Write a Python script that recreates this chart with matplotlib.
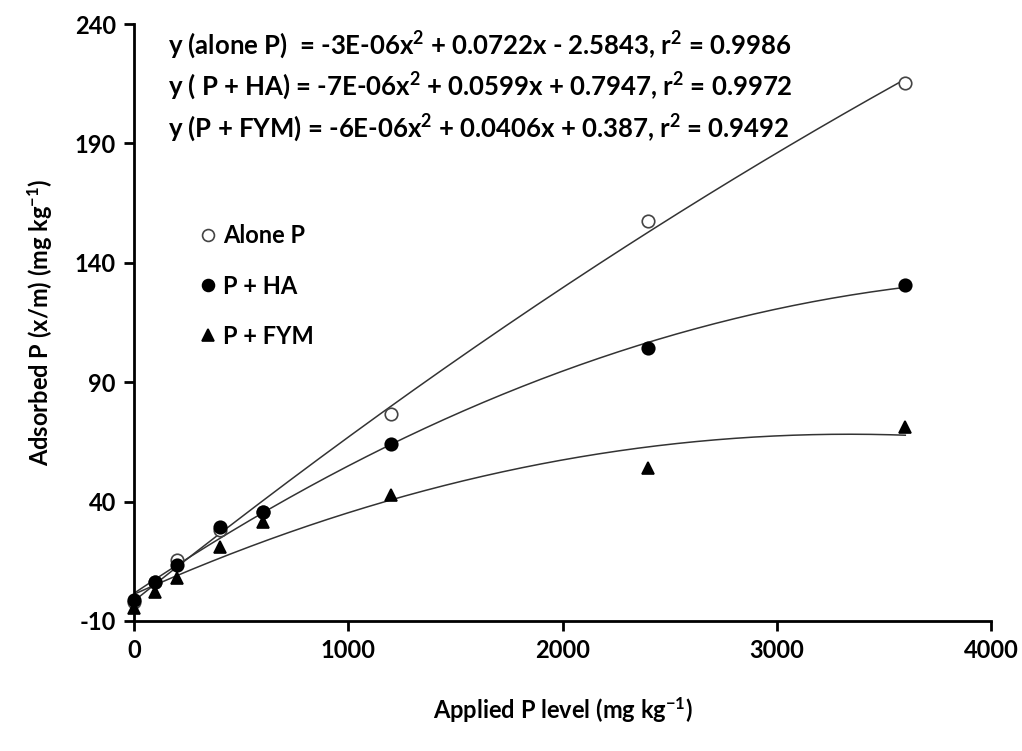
import numpy as np
import matplotlib
matplotlib.use("Agg")
import matplotlib.pyplot as plt

plt.rcParams['font.family'] = ['Lato', 'DejaVu Sans']
plt.rcParams['font.weight'] = 'bold'
plt.rcParams['axes.unicode_minus'] = False
plt.rcParams['mathtext.fontset'] = 'custom'
plt.rcParams['mathtext.rm'] = 'Lato'
plt.rcParams['mathtext.bf'] = 'Lato:bold'
plt.rcParams['mathtext.default'] = 'bf'

# applied P levels (mg/kg)
applied = [0, 100, 200, 400, 600, 1200, 2400, 3600]

# adsorbed P
alone_p = [-2, 6.3, 15.5, 28, 35.8, 76.7, 157.5, 215.3]
p_ha = [-1.2, 6.3, 13.5, 29.4, 35.6, 64.1, 104.3, 130.7]
p_fym = [-4.6, 2.2, 8.0, 21, 31.5, 42.8, 54.1, 71.2]

eq_lines = [
    "y (alone P)  = -3E-06x$^2$ + 0.0722x - 2.5843, r$^2$ = 0.9986",
    "y ( P + HA) = -7E-06x$^2$ + 0.0599x + 0.7947, r$^2$ = 0.9972",
    "y (P + FYM) = -6E-06x$^2$ + 0.0406x + 0.387, r$^2$ = 0.9492",
]

fig = plt.figure(figsize=(10.22, 7.51), dpi=100)
ax = fig.add_axes([134/1022, 1-621/751, (991-134)/1022, (621-24)/751])

xs = np.linspace(0, 3600, 200)
series = [
    (alone_p, dict(marker='o', mfc='white', mec='#444444', label='Alone P')),
    (p_ha, dict(marker='o', mfc='black', mec='black', label='P + HA')),
    (p_fym, dict(marker='^', mfc='black', mec='black', label='P + FYM')),
]
for ys, st in series:
    c = np.polyfit(applied, ys, 2)
    ax.plot(xs, np.polyval(c, xs), color='#333333', lw=1.1, zorder=2)
    ax.plot(applied, ys, ls='none', ms=9, mew=1.2, clip_on=False, zorder=3, **st)

ax.set_xlim(0, 4000)
ax.set_ylim(-10, 240)
ax.set_xticks([0, 1000, 2000, 3000, 4000])
ax.set_yticks([-10, 40, 90, 140, 190, 240])
for s in ['top', 'right']:
    ax.spines[s].set_visible(False)
for s in ['left', 'bottom']:
    ax.spines[s].set_linewidth(2)
ax.tick_params(direction='out', length=7, width=2, labelsize=17, pad=6)

ax.set_xlabel("Applied P level (mg kg$^{-1}$)", fontsize=17, fontweight='bold', labelpad=24)
ax.set_ylabel("Adsorbed P (x/m) (mg kg$^{-1}$)", fontsize=17, fontweight='bold', labelpad=14)

for i, t in enumerate(eq_lines):
    ax.text(168/1022, 1-(45+41.5*i)/751, t, transform=fig.transFigure,
            fontsize=18.5, fontweight='bold', va='center')

ax.legend(loc='upper left', bbox_to_anchor=(0.045, 0.70), frameon=False,
          handletextpad=0.05, labelspacing=1.15, handlelength=1.2, markerscale=0.95,
          prop={'weight': 'bold', 'size': 17})

fig.savefig("out.png", dpi=100)
